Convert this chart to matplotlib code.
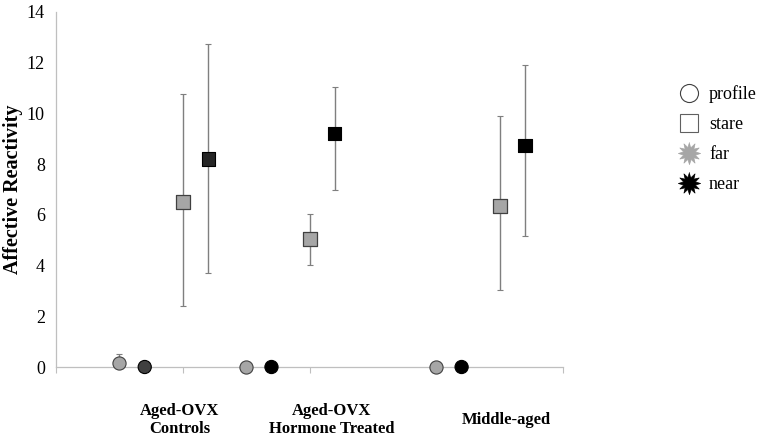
import numpy as np
import matplotlib.pyplot as plt
from matplotlib.lines import Line2D
import matplotlib.transforms as mtransforms

plt.rcParams['font.family'] = ['Liberation Serif', 'DejaVu Serif']

groups = ['Aged-OVX\nControls', 'Aged-OVX\nHormone Treated', 'Middle-aged']
group_label_x = [1.95, 4.35, 7.1]

# x positions on the scatter scale (0..8)
x_profile_far = [1.0, 3.0, 6.0]
x_profile_near = [1.4, 3.4, 6.4]
x_stare_far = [2.0, 4.0, 7.0]
x_stare_near = [2.4, 4.4, 7.4]

profile_far = [0.15, 0.0, 0.0]
profile_far_err = [0.38, 0.0, 0.0]
profile_near = [0.0, 0.0, 0.0]

stare_far = [6.5, 5.03, 6.34]
stare_far_lo = [4.1, 1.0, 3.3]
stare_far_hi = [4.25, 1.0, 3.55]
stare_near = [8.2, 9.2, 8.75]
stare_near_lo = [4.5, 2.2, 3.6]
stare_near_hi = [4.55, 1.85, 3.15]

near_profile_colors = ['#404040', '#000000', '#000000']
near_stare_colors = ['#262626', '#000000', '#000000']
far_color = '#a6a6a6'
err_color = '#7f7f7f'

fig = plt.figure(figsize=(7.62, 4.37), dpi=100)
ax = fig.add_axes([56/762, 70/437, 507/762, 355/437])

ekw = dict(fmt='none', ecolor=err_color, elinewidth=1.0, capsize=2, capthick=0.8, zorder=2, clip_on=False)

# profile
ax.errorbar(x_profile_far, profile_far, yerr=[[0, 0, 0], profile_far_err], **ekw)
ax.scatter(x_profile_far, profile_far, s=90, marker='o', c=far_color, edgecolors='#404040',
           linewidths=0.8, zorder=3, clip_on=False)
ax.scatter(x_profile_near, profile_near, s=90, marker='o', c=near_profile_colors, edgecolors='#000000',
           linewidths=0.8, zorder=3, clip_on=False)

# stare
ax.errorbar(x_stare_far, stare_far, yerr=[stare_far_lo, stare_far_hi], **ekw)
ax.errorbar(x_stare_near, stare_near, yerr=[stare_near_lo, stare_near_hi], **ekw)
ax.scatter(x_stare_far, stare_far, s=90, marker='s', c=far_color, edgecolors='#404040',
           linewidths=0.9, zorder=3, clip_on=False)
ax.scatter(x_stare_near, stare_near, s=90, marker='s', c=near_stare_colors, edgecolors='#000000',
           linewidths=0.8, zorder=3, clip_on=False)

ax.set_xlim(0, 8)
ax.set_ylim(0, 14)
ax.set_xticks([0, 2, 4, 6, 8])
ax.set_xticklabels([])
ax.set_yticks(np.arange(0, 15, 2))
ax.tick_params(axis='y', length=0, pad=8, labelsize=13)
ax.tick_params(axis='x', length=4, color='#bfbfbf', width=0.8, direction='out')

for s in ['top', 'right']:
    ax.spines[s].set_visible(False)
for s in ['left', 'bottom']:
    ax.spines[s].set_color('#bfbfbf')
    ax.spines[s].set_linewidth(0.9)

ax.set_ylabel('Affective Reactivity', fontsize=14.5, fontweight='bold')
ax.yaxis.set_label_coords(-0.066, 0.5)

trans = mtransforms.blended_transform_factory(ax.transData, fig.transFigure)
for gx, g in zip(group_label_x, groups):
    ax.text(gx, 1 - 420/437, g, transform=trans, ha='center', va='center',
            fontsize=12, fontweight='bold', linespacing=1.15)

# legend
burst = [(np.cos(a) * (1.0 if i % 2 == 0 else 0.55), np.sin(a) * (1.0 if i % 2 == 0 else 0.55))
         for i, a in enumerate(np.linspace(0, 2 * np.pi, 25)[:-1] + np.pi / 2)]
handles = [
    Line2D([], [], marker='o', ls='none', mfc='white', mec='#404040', mew=0.8, ms=13),
    Line2D([], [], marker='s', ls='none', mfc='white', mec='#606060', mew=0.8, ms=13),
    Line2D([], [], marker=burst, ls='none', mfc=far_color, mec=far_color, mew=0.5, ms=16),
    Line2D([], [], marker=burst, ls='none', mfc='black', mec='black', mew=0.5, ms=16),
]
fig.legend(handles, ['profile', 'stare', 'far', 'near'], loc='upper left',
           bbox_to_anchor=(662/762, 1 - 69/437), frameon=False, fontsize=13,
           handletextpad=0.5, labelspacing=0.72, handlelength=1.2)

fig.savefig('out.png', dpi=100)
